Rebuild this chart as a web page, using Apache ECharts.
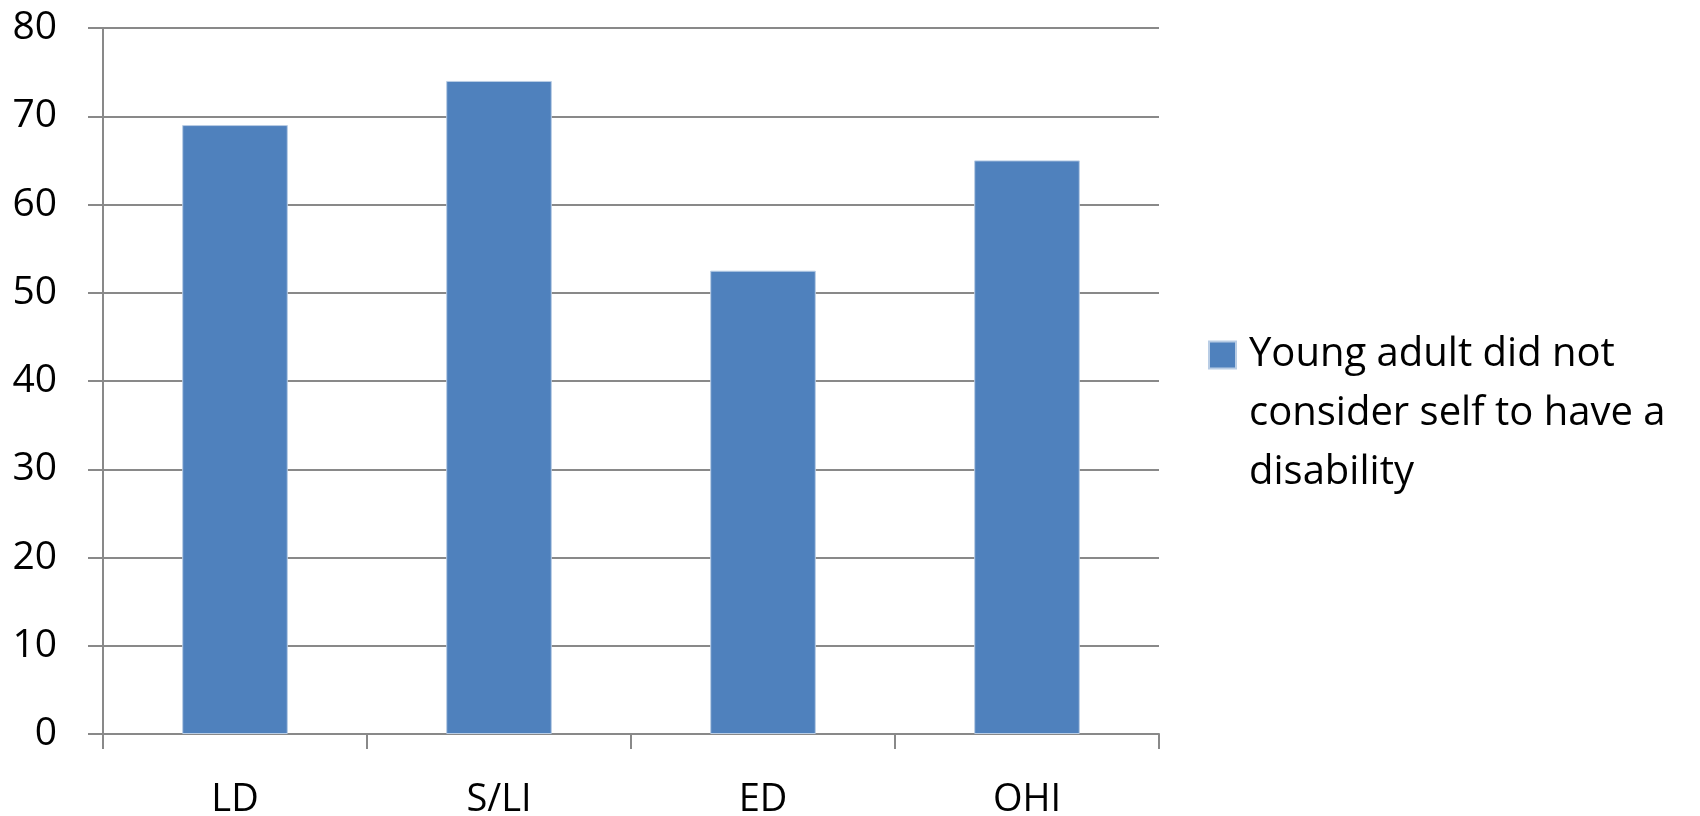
<!DOCTYPE html>
<html>
<head>
<meta charset="utf-8">
<script src="https://cdn.jsdelivr.net/npm/echarts@6/dist/echarts.min.js"></script>
<style>
html,body{margin:0;padding:0;background:#fff;}
#chart{width:1700px;height:816px;}
</style>
</head>
<body>
<div id="chart"></div>
<script>
const categories = ['LD', 'S/LI', 'ED', 'OHI'];
const seriesName = 'Young adult did not consider self to have a disability';
const legendLines = ['Young adult did not', 'consider self to have a', 'disability'];
const values = [69, 74, 52.5, 65];

const chart = echarts.init(document.getElementById('chart'), null, {renderer: 'canvas'});
const axisGray = '#898989';
const FONT = 'Open Sans';
chart.setOption({
  animation: false,
  backgroundColor: '#ffffff',
  textStyle: {fontFamily: FONT},
  grid: {left: 103, right: 541, top: 28, bottom: 82, containLabel: false, outerBoundsMode: 'none'},
  legend: {
    show: true,
    left: 1208,
    top: 335,
    padding: 0,
    orient: 'vertical',
    itemWidth: 27,
    itemHeight: 27,
    icon: 'rect',
    data: [seriesName],
    formatter: function () { return legendLines.map(l => '{t|' + l + '}').join('\n'); },
    textStyle: {
      padding: [118, 0, 0, 8],
      rich: {t: {fontFamily: FONT, fontSize: 40, lineHeight: 59, color: '#000'}}
    }
  },
  xAxis: {
    type: 'category',
    data: categories,
    boundaryGap: true,
    axisLine: {show: true, lineStyle: {color: axisGray, width: 2}},
    axisTick: {show: true, length: 15, lineStyle: {color: axisGray, width: 2}},
    axisLabel: {fontFamily: FONT, fontSize: 38, color: '#000', margin: 47},
    splitLine: {show: false}
  },
  yAxis: {
    type: 'value',
    min: 0, max: 80, interval: 10,
    axisLine: {show: true, lineStyle: {color: axisGray, width: 2}},
    axisTick: {show: true, length: 15, lineStyle: {color: axisGray, width: 2}},
    axisLabel: {fontFamily: FONT, fontSize: 39, color: '#000', margin: 46},
    splitLine: {show: true, lineStyle: {color: axisGray, width: 2}}
  },
  series: [{
    name: seriesName,
    type: 'bar',
    data: values,
    barWidth: '40%',
    itemStyle: {color: '#4f81bd', borderColor: '#b9cde5', borderWidth: 1}
  }]
});
</script>
</body>
</html>
